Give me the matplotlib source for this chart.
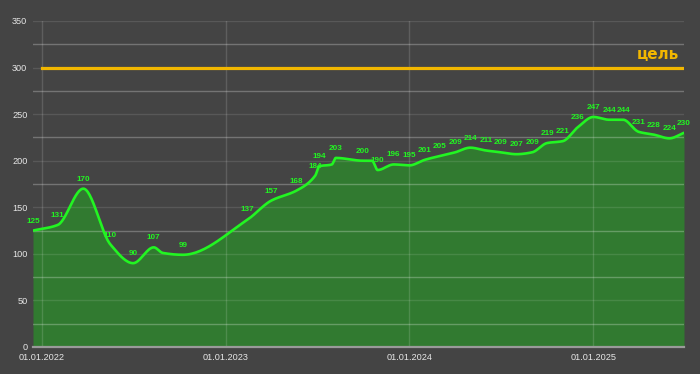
import numpy as np
import pandas as pd
import matplotlib
matplotlib.use("Agg")
import matplotlib.pyplot as plt
import matplotlib.dates as mdates

# --- data
dates = ["2021-12-14", "2022-02-01", "2022-03-24", "2022-05-17", "2022-07-01",
         "2022-08-11", "2022-08-29", "2022-10-08", "2023-02-14", "2023-04-01",
         "2023-05-22", "2023-06-28", "2023-07-06", "2023-07-31", "2023-08-08",
         "2023-10-01", "2023-10-19", "2023-10-30", "2023-12-01", "2024-01-01",
         "2024-02-01", "2024-03-01", "2024-04-01", "2024-05-01", "2024-06-01",
         "2024-07-01", "2024-08-01", "2024-09-01", "2024-10-01", "2024-11-01",
         "2024-12-01", "2025-01-01", "2025-02-01", "2025-03-01", "2025-04-01",
         "2025-05-01", "2025-06-01", "2025-06-30"]
values = [125, 131, 170, 110, 90,
          107, 101, 99, 137, 157,
          168, 184, 194, 196, 203,
          200, 200, 190, 196, 195,
          201, 205, 209, 214, 211,
          209, 207, 209, 219, 221,
          236, 247, 244, 244, 231,
          228, 224, 230]
# points without a label on the chart
unlabeled = {"2022-08-29", "2023-07-31", "2023-10-19"}

goal_value = 300
goal_start = "2022-01-01"
goal_label = "цель"

year_ticks = ["2022-01-01", "2023-01-01", "2024-01-01", "2025-01-01"]

# --- colours
bg = "#444444"
fill_c = "#317a30"
line_c = "#22f522"
goal_c = "#f2b700"

plt.rcParams["font.family"] = ["Liberation Sans", "DejaVu Sans"]

x = mdates.date2num(pd.to_datetime(dates))
y = np.array(values, dtype=float)


def monotone_curve(xs, ys, n=30):
    # Fritsch-Carlson monotone cubic, only used to draw the smooth line
    h = np.diff(xs)
    d = np.diff(ys) / h
    m = np.zeros_like(ys)
    m[0], m[-1] = d[0], d[-1]
    for i in range(1, len(ys) - 1):
        if d[i - 1] * d[i] <= 0:
            m[i] = 0
        else:
            w1 = 2 * h[i] + h[i - 1]
            w2 = h[i] + 2 * h[i - 1]
            m[i] = (w1 + w2) / (w1 / d[i - 1] + w2 / d[i])
    px, py = [], []
    for i in range(len(h)):
        t = np.linspace(0, 1, n, endpoint=False)
        h00 = 2 * t**3 - 3 * t**2 + 1
        h10 = t**3 - 2 * t**2 + t
        h01 = -2 * t**3 + 3 * t**2
        h11 = t**3 - t**2
        px.append(xs[i] + t * h[i])
        py.append(h00 * ys[i] + h10 * h[i] * m[i] + h01 * ys[i + 1] + h11 * h[i] * m[i + 1])
    px.append([xs[-1]])
    py.append([ys[-1]])
    return np.concatenate(px), np.concatenate(py)


cx, cy = monotone_curve(x, y)

fig = plt.figure(figsize=(7, 3.74), dpi=100, facecolor=bg)
ax = fig.add_axes([33 / 700, 27 / 374, 651 / 700, 326 / 374], facecolor=bg)

ax.fill_between(cx, 0, cy, color=fill_c, lw=0, zorder=1)
ax.plot(cx, cy, color=line_c, lw=1.9, zorder=5, solid_capstyle="round")

# goal line
gx = mdates.date2num(pd.to_datetime([goal_start]))[0]
ax.plot([gx, x[-1]], [goal_value, goal_value], color=goal_c, lw=2.3, zorder=4)
ax.text(0.992, 314 / 350, goal_label, transform=ax.transAxes, ha="right", va="center",
        color=goal_c, fontsize=11, fontweight="bold", family=["DejaVu Sans"], zorder=6)

# point labels
for d, xi, yi in zip(dates, x, values):
    if d in unlabeled:
        continue
    ax.annotate(str(yi), (xi, yi), xytext=(0, 4.3), textcoords="offset points",
                ha="center", va="bottom", color=line_c, fontsize=5.9,
                fontweight="bold", zorder=3)

ax.set_xlim(x[0], x[-1])
ax.set_ylim(0, 350)

ax.set_yticks(np.arange(0, 351, 50))
ax.set_yticks(np.arange(25, 351, 50), minor=True)
xt = mdates.date2num(pd.to_datetime(year_ticks))
ax.set_xticks(xt)
ax.set_xticklabels([pd.Timestamp(t).strftime("%d.%m.%Y") for t in year_ticks])

ax.grid(True, which="major", axis="y", color="white", alpha=0.11, lw=1.0, zorder=2)
ax.grid(True, which="minor", axis="y", color="white", alpha=0.26, lw=1.0, zorder=2)
ax.grid(True, which="major", axis="x", color="white", alpha=0.14, lw=1.0, zorder=2)
ax.set_axisbelow(False)

for s in ["top", "right", "left"]:
    ax.spines[s].set_visible(False)
ax.spines["bottom"].set_color("#9a9a9a")
ax.spines["bottom"].set_linewidth(1.6)
ax.spines["bottom"].set_zorder(6)

ax.tick_params(axis="both", which="both", length=0, colors="#e6e6e6", labelsize=6.6)
ax.tick_params(axis="y", pad=4)
ax.tick_params(axis="x", pad=4)

fig.savefig("out.png", dpi=100, facecolor=bg)
